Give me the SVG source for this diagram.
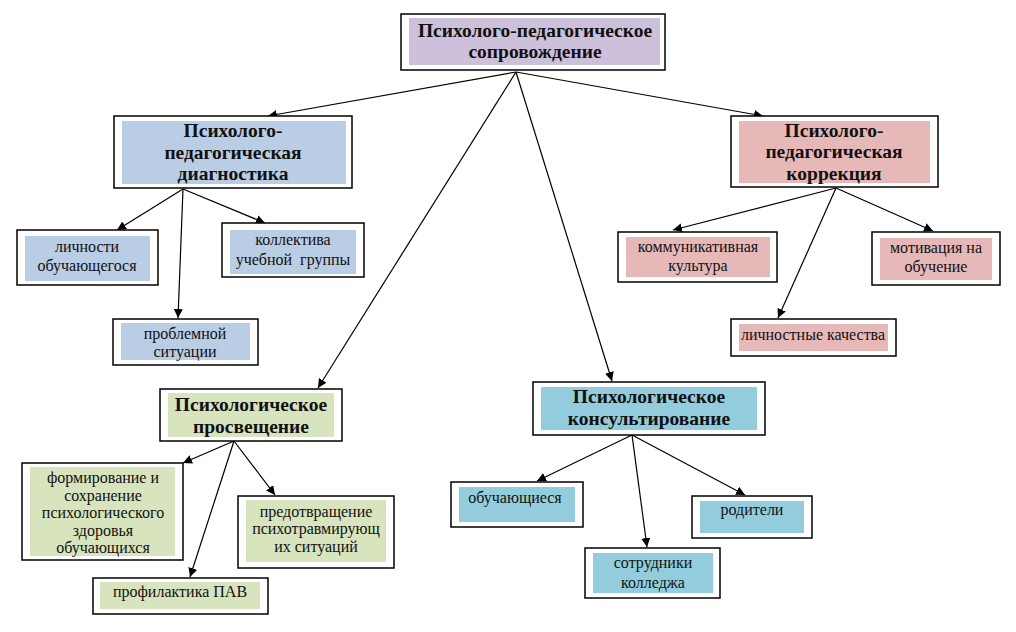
<svg xmlns="http://www.w3.org/2000/svg" width="1016" height="632" viewBox="0 0 1016 632">
<style>
.o{fill:#fff;stroke:#000;stroke-width:1.5}
.h{font-family:"Liberation Serif","Times New Roman",serif;font-weight:bold;font-size:19.5px;fill:#111;text-anchor:middle}
.t{font-family:"Liberation Serif","Times New Roman",serif;font-size:16px;fill:#111;text-anchor:middle}
.lav{fill:#ccc0da}.blu{fill:#b9cde5}.pnk{fill:#e6b9b8}.grn{fill:#d7e4bd}.tea{fill:#93cddd}
#edges line{stroke:#000;stroke-width:1.2;marker-end:url(#a)}
</style>
<defs>
<marker id="a" viewBox="0 0 10 10" refX="10" refY="5" markerWidth="9" markerHeight="9" markerUnits="userSpaceOnUse" orient="auto">
<path d="M0,0L10,5L0,10z" fill="#000"/>
</marker>
</defs>
<rect width="1016" height="632" fill="#fff"/>
<g id="edges">
<line x1="516" y1="72" x2="268" y2="116"/>
<line x1="516" y1="72" x2="763" y2="116"/>
<line x1="516" y1="72" x2="318" y2="388"/>
<line x1="516" y1="72" x2="612" y2="381"/>
<line x1="183" y1="189" x2="117" y2="230"/>
<line x1="183" y1="189" x2="265" y2="223"/>
<line x1="183" y1="189" x2="178" y2="318"/>
<line x1="836" y1="188" x2="673" y2="230"/>
<line x1="836" y1="188" x2="933" y2="231"/>
<line x1="836" y1="188" x2="778" y2="318"/>
<line x1="234" y1="441" x2="183" y2="463"/>
<line x1="234" y1="441" x2="190" y2="577"/>
<line x1="234" y1="441" x2="275" y2="495"/>
<line x1="632" y1="435" x2="537" y2="481"/>
<line x1="632" y1="435" x2="647" y2="547"/>
<line x1="632" y1="435" x2="745" y2="495"/>
</g>
<g id="root">
<rect class="o" x="401" y="14" width="264" height="56"/>
<rect class="lav" x="409" y="18" width="251" height="47"/>
<text class="h" x="535" y="37">Психолого-педагогическое</text>
<text class="h" x="535" y="58">сопровождение</text>
</g>
<g id="diag">
<rect class="o" x="114" y="116" width="238" height="72"/>
<rect class="blu" x="122" y="121" width="224" height="63"/>
<text class="h" x="233" y="137">Психолого-</text>
<text class="h" x="233" y="159">педагогическая</text>
<text class="h" x="233" y="180">диагностика</text>
</g>
<g id="corr">
<rect class="o" x="731" y="116" width="207" height="71"/>
<rect class="pnk" x="739" y="121" width="191" height="62"/>
<text class="h" x="834" y="137">Психолого-</text>
<text class="h" x="834" y="158">педагогическая</text>
<text class="h" x="834" y="180">коррекция</text>
</g>
<g id="lichn">
<rect class="o" x="17" y="230" width="141" height="55"/>
<rect class="blu" x="25" y="236" width="125" height="45"/>
<text class="t" x="87" y="252">личности</text>
<text class="t" x="87" y="271">обучающегося</text>
</g>
<g id="koll">
<rect class="o" x="222" y="223" width="142" height="54"/>
<rect class="blu" x="230" y="230" width="126" height="44"/>
<text class="t" x="293" y="245">коллектива</text>
<text class="t" x="293" y="265" xml:space="preserve">учебной  группы</text>
</g>
<g id="probl">
<rect class="o" x="113" y="319" width="145" height="46"/>
<rect class="blu" x="121" y="323" width="129" height="37"/>
<text class="t" x="185" y="339">проблемной</text>
<text class="t" x="185" y="357">ситуации</text>
</g>
<g id="komm">
<rect class="o" x="618" y="232" width="159" height="50"/>
<rect class="pnk" x="626" y="237" width="144" height="40"/>
<text class="t" x="698" y="252">коммуникативная</text>
<text class="t" x="698" y="271">культура</text>
</g>
<g id="motiv">
<rect class="o" x="872" y="232" width="128" height="53"/>
<rect class="pnk" x="880" y="238" width="112" height="42"/>
<text class="t" x="936" y="253">мотивация на</text>
<text class="t" x="936" y="272">обучение</text>
</g>
<g id="kach">
<rect class="o" x="731" y="319" width="165" height="37"/>
<rect class="pnk" x="739" y="324" width="149" height="27"/>
<text class="t" x="813" y="340">личностные качества</text>
</g>
<g id="prosv">
<rect class="o" x="160" y="389" width="182" height="52"/>
<rect class="grn" x="168" y="393" width="166" height="44"/>
<text class="h" x="251" y="411">Психологическое</text>
<text class="h" x="251" y="433">просвещение</text>
</g>
<g id="kons">
<rect class="o" x="533" y="382" width="232" height="53"/>
<rect class="tea" x="541" y="387" width="216" height="43"/>
<text class="h" x="649" y="403">Психологическое</text>
<text class="h" x="649" y="425">консультирование</text>
</g>
<g id="form">
<rect class="o" x="22" y="463" width="161" height="97"/>
<rect class="grn" x="30" y="467" width="145" height="89"/>
<text class="t" x="103" y="483">формирование и</text>
<text class="t" x="103" y="501">сохранение</text>
<text class="t" x="103" y="518">психологического</text>
<text class="t" x="103" y="536">здоровья</text>
<text class="t" x="103" y="553">обучающихся</text>
</g>
<g id="predot">
<rect class="o" x="238" y="496" width="156" height="72"/>
<rect class="grn" x="246" y="500" width="140" height="62"/>
<text class="t" x="316" y="517">предотвращение</text>
<text class="t" x="316" y="534">психотравмирующ</text>
<text class="t" x="316" y="552">их ситуаций</text>
</g>
<g id="pav">
<rect class="o" x="93" y="578" width="175" height="36"/>
<rect class="grn" x="100" y="582" width="160" height="27"/>
<text class="t" x="180" y="597">профилактика ПАВ</text>
</g>
<g id="obuch">
<rect class="o" x="451" y="482" width="132" height="45"/>
<rect class="tea" x="459" y="487" width="116" height="35"/>
<text class="t" x="515" y="503">обучающиеся</text>
</g>
<g id="rod">
<rect class="o" x="692" y="496" width="120" height="42"/>
<rect class="tea" x="700" y="501" width="104" height="32"/>
<text class="t" x="752" y="515">родители</text>
</g>
<g id="sotr">
<rect class="o" x="585" y="548" width="135" height="50"/>
<rect class="tea" x="593" y="553" width="120" height="40"/>
<text class="t" x="653" y="568">сотрудники</text>
<text class="t" x="653" y="588">колледжа</text>
</g>
</svg>
